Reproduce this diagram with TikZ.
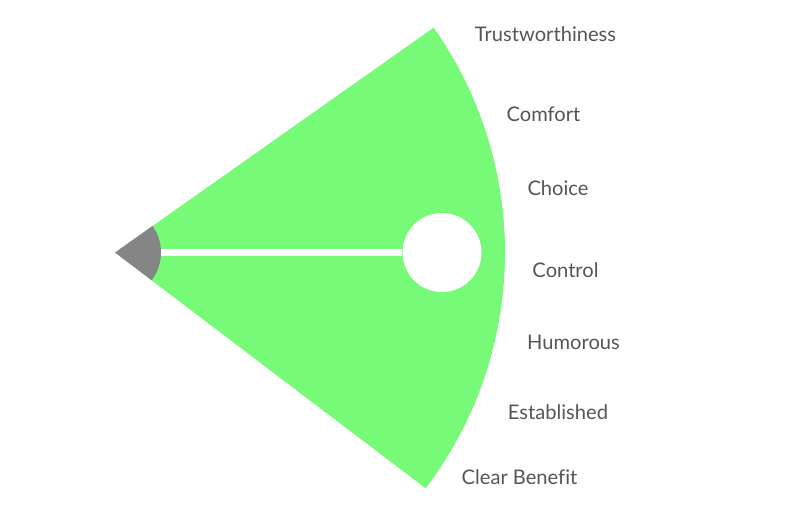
\documentclass[tikz,border=0pt]{standalone}
\usepackage{fontspec}
\setmainfont{Lato}[Ligatures=NoCommon]
\usepackage{xcolor}
\usetikzlibrary{positioning}
\definecolor{dialgreen}{HTML}{77FA77}
\definecolor{hubgray}{HTML}{858585}
\definecolor{labelgray}{HTML}{555555}

\begin{document}
\begin{tikzpicture}[x=1bp,y=-1bp,font=\fontsize{20.2}{24}\selectfont]
\tikzset{wedge/.style={fill=dialgreen}, hub/.style={fill=hubgray}, bar/.style={draw=white,line width=7bp}, knob/.style={circle,fill=white,inner sep=0pt,minimum size=79bp}, lbl/.style={text=labelgray,inner sep=0pt,anchor=center}}
\useasboundingbox (0,0) rectangle (800,519);
\coordinate (apex) at (115,252.5);
% dial sector
\fill[wedge] (apex) -- ++(35.2:390bp) arc[start angle=35.2,end angle=-37.2,radius=390bp] -- cycle;
\node[knob] (knob) at (442,252.5) {};
\draw[bar] (apex) -- (knob);
\fill[hub] (apex) -- ++(35.2:46bp) arc[start angle=35.2,end angle=-37.2,radius=46bp] -- cycle;
% labels
\node[lbl] (trust) at (545.5,34) {Trustworthiness};
\node[lbl] (comfort) at (543.5,114) {Comfort};
\node[lbl] (choice) at (558,188) {Choice};
\node[lbl] (control) at (565.5,270) {Control};
\node[lbl] (humor) at (573.5,342) {Humorous};
\node[lbl] (estab) at (558,412) {Established};
\node[lbl] (benefit) at (519.5,477) {Clear Benefit};
\end{tikzpicture}
\end{document}
